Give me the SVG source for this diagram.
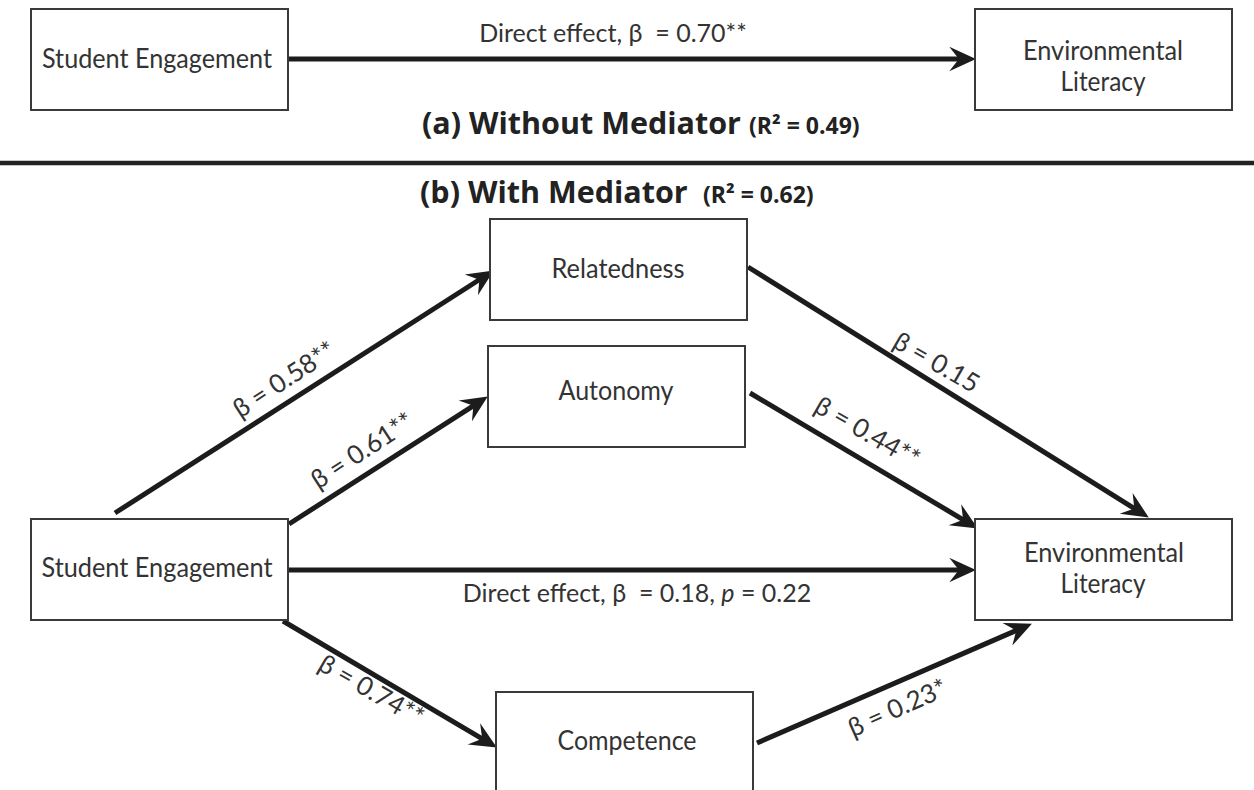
<svg xmlns="http://www.w3.org/2000/svg" width="1254" height="790" viewBox="0 0 1254 790">
<defs>
<marker id="ah" markerUnits="userSpaceOnUse" markerWidth="32" markerHeight="32" viewBox="-28 -14 30 28" refX="-14" refY="0" orient="auto">
<path d="M0,0 L-25,-11.5 L-16,0 L-25,11.5 Z" fill="#1c1c1c"/>
</marker>
</defs>
<style>
.box{fill:#fff;stroke:#3a3a3a;stroke-width:2}
.lbl{font-family:Lato,"Liberation Sans",sans-serif;font-size:26px;fill:#333;text-anchor:middle}
.edge{stroke:#1c1c1c;stroke-width:5;fill:none;marker-end:url(#ah)}
.el{font-family:Lato,"Liberation Sans",sans-serif;font-size:26px;fill:#333;text-anchor:middle}
.de{font-size:25px}
.title{font-family:"Open Sans","Liberation Sans",sans-serif;font-weight:bold;fill:#222}
.tmain{font-size:30.5px}
.tsub{font-size:23px}
</style>
<rect width="1254" height="790" fill="#fff"/>

<g id="connectors">
<line class="edge" x1="288" y1="59" x2="961" y2="59"/>
<line class="edge" x1="115" y1="513" x2="481.2" y2="278.5"/>
<line class="edge" x1="289" y1="524" x2="475.2" y2="404.6"/>
<line class="edge" x1="748" y1="267" x2="1136.1" y2="509.6"/>
<line class="edge" x1="750" y1="393" x2="965" y2="520.8"/>
<line class="edge" x1="288" y1="570" x2="961" y2="570"/>
<line class="edge" x1="283" y1="621" x2="484" y2="739.9"/>
<line class="edge" x1="757" y1="743" x2="1018.2" y2="629.6"/>
</g>

<g id="edge-labels">
<text class="el de" x="613" y="42">Direct effect, β&#160; = 0.70**</text>
<text class="el de" x="637" y="602">Direct effect, β&#160; = 0.18, <tspan font-style="italic">p</tspan> = 0.22</text>
<text class="el" transform="translate(289,387) rotate(-33)">β = 0.58**</text>
<text class="el" transform="translate(367,458) rotate(-33)">β = 0.61**</text>
<text class="el" transform="translate(932,370) rotate(30)">β = 0.15</text>
<text class="el" transform="translate(863,440) rotate(30)">β = 0.44**</text>
<text class="el" transform="translate(367,698) rotate(30)">β = 0.74**</text>
<text class="el" transform="translate(901,716) rotate(-24)">β = 0.23*</text>
</g>

<g id="node-se-a">
<rect class="box" x="31" y="9" width="257" height="101"/>
<text class="lbl" x="157" y="68" textLength="230" lengthAdjust="spacingAndGlyphs">Student Engagement</text>
</g>
<g id="node-el-a">
<rect class="box" x="975" y="9" width="257" height="101"/>
<text class="lbl" x="1103" y="60" textLength="160" lengthAdjust="spacingAndGlyphs">Environmental</text>
<text class="lbl" x="1103" y="91" textLength="85" lengthAdjust="spacingAndGlyphs">Literacy</text>
</g>

<g id="title-a">
<text class="title tmain" x="422" y="134">(a) Without Mediator</text>
<text class="title tsub" x="749" y="134">(R² = 0.49)</text>
</g>
<line id="divider" x1="0" y1="163" x2="1254" y2="163" stroke="#222" stroke-width="4.5"/>
<g id="title-b">
<text class="title tmain" x="420" y="203">(b) With Mediator</text>
<text class="title tsub" x="703" y="203">(R² = 0.62)</text>
</g>

<g id="node-relatedness">
<rect class="box" x="490" y="219" width="257" height="101"/>
<text class="lbl" x="618" y="278" textLength="133" lengthAdjust="spacingAndGlyphs">Relatedness</text>
</g>
<g id="node-autonomy">
<rect class="box" x="488" y="346" width="257" height="101"/>
<text class="lbl" x="616" y="400" textLength="115" lengthAdjust="spacingAndGlyphs">Autonomy</text>
</g>
<g id="node-se-b">
<rect class="box" x="31" y="519" width="257" height="101"/>
<text class="lbl" x="157" y="577" textLength="231" lengthAdjust="spacingAndGlyphs">Student Engagement</text>
</g>
<g id="node-el-b">
<rect class="box" x="975" y="519" width="257" height="101"/>
<text class="lbl" x="1104" y="562" textLength="160" lengthAdjust="spacingAndGlyphs">Environmental</text>
<text class="lbl" x="1103" y="593" textLength="85" lengthAdjust="spacingAndGlyphs">Literacy</text>
</g>
<g id="node-competence">
<rect class="box" x="496" y="692" width="257" height="110"/>
<text class="lbl" x="627" y="750" textLength="139" lengthAdjust="spacingAndGlyphs">Competence</text>
</g>
</svg>
